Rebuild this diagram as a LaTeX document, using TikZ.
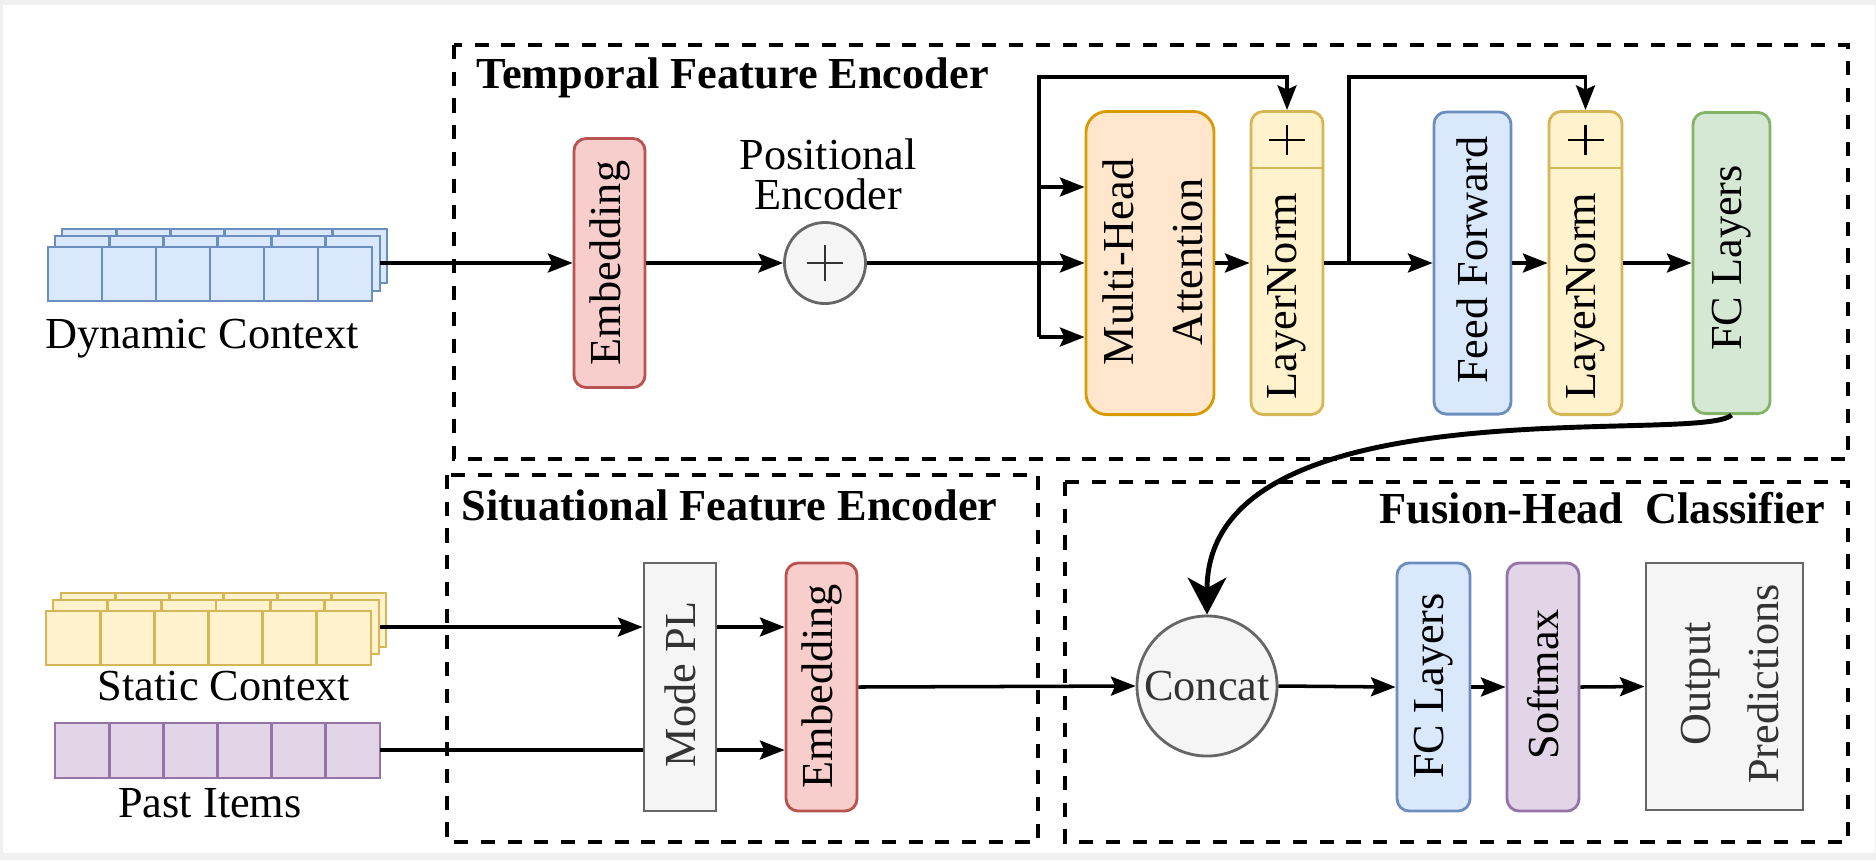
\documentclass[tikz,border=0pt]{standalone}
\usepackage{fontspec}
\setmainfont{Liberation Serif}
\usetikzlibrary{arrows.meta}
\definecolor{bfill}{HTML}{DAE8FC}\definecolor{bdraw}{HTML}{6C8EBF}
\definecolor{yfill}{HTML}{FFF2CC}\definecolor{ydraw}{HTML}{D6B656}
\definecolor{rfill}{HTML}{F8CECC}\definecolor{rdraw}{HTML}{B85450}
\definecolor{ofill}{HTML}{FFE6CC}\definecolor{odraw}{HTML}{D79B00}
\definecolor{gfill}{HTML}{D5E8D4}\definecolor{gdraw}{HTML}{82B366}
\definecolor{pfill}{HTML}{E1D5E7}\definecolor{pdraw}{HTML}{9673A6}
\definecolor{kfill}{HTML}{F5F5F5}\definecolor{kdraw}{HTML}{666666}\definecolor{ktext}{HTML}{333333}
\definecolor{framegray}{HTML}{F0F0F0}
\newcommand\cellrow[5]{%
  \draw[#5] (#1,#2) rectangle (#3,#4);
  \foreach \ci in {1,...,5}{\draw[#5] ({#1+\ci*(#3-#1)/6},#2) -- ({#1+\ci*(#3-#1)/6},#4);}
}
\tikzset{
  rbox/.style={draw, line width=0.8pt, rounded corners=3.5pt, inner sep=0pt},
  sbox/.style={draw, line width=0.8pt, inner sep=0pt},
  blueb/.style={fill=bfill, draw=bdraw},
  yelb/.style={fill=yfill, draw=ydraw},
  redb/.style={fill=rfill, draw=rdraw},
  orab/.style={fill=ofill, draw=odraw},
  greb/.style={fill=gfill, draw=gdraw},
  purb/.style={fill=pfill, draw=pdraw},
  grab/.style={fill=kfill, draw=kdraw, text=ktext},
  vtext/.style={rotate=90, inner sep=0pt, align=center},
  vtwo/.style={rotate=90, inner sep=0pt, align=center, font=\fontsize{12.6pt}{19.6pt}\selectfont},
  ttl/.style={inner sep=0pt, font=\bfseries\fontsize{12.6pt}{15pt}\selectfont},
  lbl/.style={inner sep=0pt},
  dbox/.style={draw=black, line width=1.1pt, dash pattern=on 4pt off 3.6pt},
  arr/.style={-{Stealth[length=7pt,width=5.4pt,inset=1.2pt]}, line width=1pt},
  ln/.style={line width=1pt},
  carr/.style={-{Stealth[length=10.5pt,width=11pt,inset=3pt]}, line width=1.4pt},
}
\begin{document}
\begin{tikzpicture}[x=0.01cm, y=-0.01cm, font=\fontsize{12.6pt}{15pt}\selectfont]
\useasboundingbox (0,0) rectangle (1876,860);
\fill[framegray] (0,0) rectangle (1876,860);
\fill[white] (3,5) rectangle (1875,853);

% dashed group boxes
\draw[dbox] (454,45) rectangle (1848,459);
\draw[dbox] (447,475) rectangle (1038,842);
\draw[dbox] (1065,482) rectangle (1848,842);
\node[ttl, anchor=base west] (t1) at (476,88) {Temporal Feature Encoder};
\node[ttl, anchor=base west] (t2) at (461,520) {Situational Feature Encoder};
\node[ttl, anchor=base east] (t3) at (1826,523) {Fusion-Head\ \ Classifier};

% input stacks
\cellrow{62}{229}{387}{283}{blueb, line width=0.8pt}
\cellrow{55}{236}{380}{291}{blueb, line width=0.8pt}
\cellrow{48}{247}{372}{301}{blueb, line width=0.8pt}
\cellrow{61}{593}{386}{647}{yelb, line width=0.8pt}
\cellrow{53}{600}{379}{654}{yelb, line width=0.8pt}
\cellrow{46}{611}{371}{665}{yelb, line width=0.8pt}
\cellrow{55}{723}{380}{778}{purb, line width=0.8pt}
\node[lbl, anchor=base] (dyntxt) at (202,348) {Dynamic Context};
\node[lbl, anchor=base] (stattxt) at (224,700) {Static Context};
\node[lbl, anchor=base] (pasttxt) at (210,817) {Past Items};
\coordinate (dynout) at (380,263);
\coordinate (statout) at (380,627);
\coordinate (pastout) at (380,750);

% temporal encoder
\node[rbox, redb, minimum width=0.71cm, minimum height=2.49cm] (emb1) at (609.5,263) {};
\node[vtext] (emb1t) at (609.5,263) {Embedding};
\node[sbox, grab, circle, minimum size=0.81cm] (pe) at (825,263) {};
\draw[ktext, line width=0.7pt] (807,263) -- (843,263) (825,245) -- (825,281);
\node[lbl, anchor=base] (pet1) at (828,169) {Positional};
\node[lbl, anchor=base] (pet2) at (828,209) {Encoder};
\node[rbox, orab, minimum width=1.28cm, minimum height=3.03cm, rounded corners=6pt] (mha) at (1150,263) {};
\node[vtwo] (mhat) at (1153,262) {Multi-Head\\Attention};
\node[rbox, yelb, minimum width=0.72cm, minimum height=3.03cm] (ln1) at (1287,263) {};
\draw[ydraw, line width=0.8pt] (1251,168) -- (1323,168);
\draw[black, line width=0.6pt] (1269,140) -- (1305,140) (1287,125) -- (1287,155);
\node[vtext] (ln1t) at (1287,296) {LayerNorm};
\node[rbox, blueb, minimum width=0.77cm, minimum height=3.02cm] (ff) at (1472.5,263) {};
\node[vtext] (fft) at (1472.5,260) {Feed Forward};
\node[rbox, yelb, minimum width=0.73cm, minimum height=3.03cm] (ln2) at (1585.5,263) {};
\draw[ydraw, line width=0.8pt] (1549,168) -- (1622,168);
\draw[black, line width=0.6pt] (1567.5,140) -- (1603.5,140) (1585.5,125) -- (1585.5,155);
\node[vtext] (ln2t) at (1585.5,296) {LayerNorm};
\node[rbox, greb, minimum width=0.77cm, minimum height=3.01cm] (fc1) at (1731.5,263) {};
\node[vtext] (fc1t) at (1731.5,258) {FC Layers};

\coordinate (j1) at (1039,263);
\coordinate (j1t) at (1039,187);
\coordinate (j1b) at (1039,337);
\coordinate (j1up) at (1039,77);
\coordinate (j2) at (1349,263);
\coordinate (j2up) at (1349,77);
\draw[arr] (dynout) -- (emb1.west);
\draw[arr] (emb1.east) -- (pe.west);
\draw[ln] (pe.east) -- (j1);
\draw[arr] (j1) -- (mha.west);
\draw[arr] (j1b) -- (j1up) -| (ln1.north);
\draw[arr] (j1t) -- (mha.west |- j1t);
\draw[arr] (j1b) -- (mha.west |- j1b);
\draw[arr] (mha.east) -- (ln1.west);
\draw[arr] (ln1.east) -- (ff.west);
\draw[arr] (j2) -- (j2up) -| (ln2.north);
\draw[arr] (ff.east) -- (ln2.west);
\draw[arr] (ln2.east) -- (fc1.west);

% situational encoder
\node[sbox, grab, minimum width=0.72cm, minimum height=2.48cm] (modepl) at (680,687) {};
\node[vtext, text=ktext] (modeplt) at (680,684) {Mode PL};
\node[rbox, redb, minimum width=0.71cm, minimum height=2.48cm] (emb2) at (821.5,687) {};
\node[vtext] (emb2t) at (821.5,686) {Embedding};
\draw[arr] (statout) -- (modepl.west |- statout);
\draw[ln] (pastout) -- (modepl.west |- pastout);
\draw[arr] (modepl.east |- statout) -- (emb2.west |- statout);
\draw[arr] (modepl.east |- pastout) -- (emb2.west |- pastout);

% fusion head
\node[sbox, grab, circle, minimum size=1.40cm] (concat) at (1207,686) {};
\node[lbl, text=ktext] (concatt) at (1207,686) {Concat};
\node[rbox, blueb, minimum width=0.73cm, minimum height=2.48cm] (fc2) at (1433.5,687) {};
\node[vtext] (fc2t) at (1433.5,686) {FC Layers};
\node[rbox, purb, minimum width=0.72cm, minimum height=2.48cm] (sm) at (1543,687) {};
\node[vtext] (smt) at (1543,684) {Softmax};
\node[sbox, grab, minimum width=1.57cm, minimum height=2.47cm] (outp) at (1724.5,686.5) {};
\node[vtwo, text=ktext] (outpt) at (1730,684) {Output\\Predictions};
\draw[arr] (emb2.east) -- (concat.west);
\draw[arr] (concat.east) -- (fc2.west);
\draw[arr] (fc2.east) -- (sm.west);
\draw[arr] (sm.east) -- (outp.west);
\draw[carr] (fc1.south) .. controls (1700,445) and (1207,380) .. (concat.north);
\end{tikzpicture}
\end{document}
